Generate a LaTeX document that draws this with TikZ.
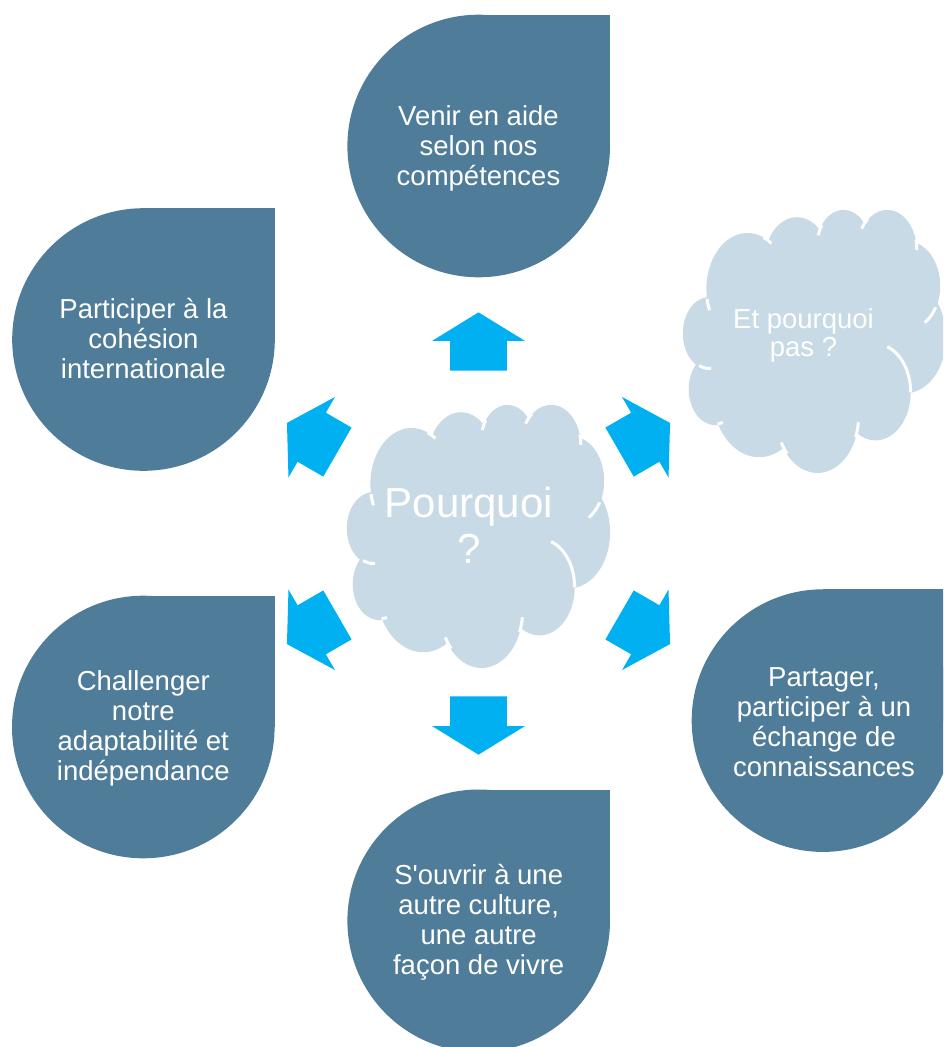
\documentclass[tikz,border=0pt]{standalone}
\usepackage{fontspec}
\setmainfont{Liberation Sans}
\definecolor{tearc}{RGB}{79,125,153}
\definecolor{arrowc}{RGB}{0,176,240}
\definecolor{cloudc}{RGB}{200,218,230}
% exact arcTo (wR, hR, start angle, sweep; units of 1/1000)
\newcommand\oa[4]{arc[x radius={#1/1000}, y radius={#2/1000}, start angle={atan2(#1*sin(#3),#2*cos(#3))}, delta angle={mod(atan2(#1*sin(#3+#4),#2*cos(#3+#4))-atan2(#1*sin(#3),#2*cos(#3))+720,360)}]}
% shifted variant used for the inner white strokes
\newcommand\ob[4]{++({#1*(cos(#3)-cos(atan2(#1*sin(#3),#2*cos(#3))))/1000},{#2*(sin(#3)-sin(atan2(#1*sin(#3),#2*cos(#3))))/1000}) arc[x radius={#1/1000}, y radius={#2/1000}, start angle={#3}, delta angle={#4}]}
\newcommand\cloudouter{(3.900,14.370)
 \oa{6753}{9190}{-190.48748}{123.78053}
 \oa{5333}{7267}{-144.10238}{89.94523}
 \oa{4365}{5945}{-145.80792}{99.72302}
 \oa{4857}{6595}{-130.98607}{117.24173}
 \oa{5333}{7273}{-78.70888}{109.02692}
 \oa{6775}{9220}{-46.26725}{130.269}
 \oa{5785}{7867}{0.62502}{114.03333}
 \oa{6752}{9215}{22.4516}{115.17255}
 \oa{7720}{10543}{66.24263}{75.71102}
 \oa{4360}{5918}{-274.94208}{146.73557}
 \oa{4345}{5945}{-246.8285}{152.51885} -- cycle}
\newcommand\cloudinner{(4.693,26.177) \ob{4345}{5945}{86.742}{26.4295}
 (6.928,34.899) \ob{4360}{5918}{73.61047}{11.44747}
 (16.478,39.090) \ob{6752}{9215}{137.62415}{14.0811}
 (28.827,34.751) \ob{6752}{9215}{6.45327}{15.99835}
 (34.129,22.954) \ob{5785}{7867}{-70.29235}{70.91737}
 (41.798,15.354) \ob{5333}{7273}{30.31803}{27.7515}
 (38.324,5.426) \ob{4857}{6595}{-13.74433}{14.8589}
 (29.078,3.952) \ob{4857}{6595}{-149.18145}{18.19537}
 (22.141,4.720) \ob{4365}{5945}{-163.49427}{17.68635}
 (14.000,5.192) \ob{6753}{9190}{-66.70695}{12.31935}
 (4.127,15.789) \ob{6753}{9190}{157.65435}{11.85817}}
\newcommand\cloudshape[2]{%
 \begin{scope}[shift={(#1,#2)}, x=6.08796pt, y=-6.08796pt]
  \fill[cloudc] \cloudouter;
  \draw[white, line width=3pt] \cloudinner;
 \end{scope}}
\newcommand\teardrop[2]{%
 \fill[tearc] (#1,#2) circle[radius=131.3];
 \fill[tearc] (#1,#2) rectangle ++(131.3,-131.3);}
\newcommand\blockarrow[3]{%
 \fill[arrowc, shift={(#1,#2)}, rotate=#3] (29.15,0) -- (0.55,46.5) -- (0.55,28.3) -- (-29.15,28.3) -- (-29.15,-28.3) -- (0.55,-28.3) -- (0.55,-46.5) -- cycle;}
\begin{document}
\begin{tikzpicture}[x=1pt, y=-1pt,
  txt/.style={text=white, align=center, inner sep=0pt, anchor=north, font=\fontsize{27.5}{30}\selectfont},
  bigtxt/.style={text=white, align=center, inner sep=0pt, anchor=north, font=\fontsize{42}{46}\selectfont},
  cloudtxt/.style={text=white, align=center, inner sep=0pt, anchor=north, font=\fontsize{27.5}{28.5}\selectfont}]
\useasboundingbox (0,0) rectangle (943,1047);
\clip (0,0) rectangle (943,1047);
% teardrops
\teardrop{478.7}{146}
\teardrop{143.5}{339.5}
\teardrop{143.3}{727}
\teardrop{478.7}{920.8}
\teardrop{823}{720.6}
% clouds
\cloudshape{347}{404}
\cloudshape{683}{209}
% arrows
\blockarrow{478.5}{341.5}{90}
\blockarrow{478.5}{725.5}{270}
\blockarrow{312.2}{437.5}{150}
\blockarrow{312.2}{629.5}{210}
\blockarrow{644.8}{437.5}{30}
\blockarrow{644.8}{629.5}{-30}
% texts
\node[txt] (t1) at (478.5,104) {\strut Venir en aide\\\strut selon nos\\\strut compétences};
\node[txt] (t2) at (143.5,297.5) {\strut Participer à la\\\strut cohésion\\\strut internationale};
\node[txt] (t3) at (143.3,669) {\strut Challenger\\\strut notre\\\strut adaptabilité et\\\strut indépendance};
\node[txt] (t4) at (478.7,863.5) {\strut S\textquotesingle ouvrir à une\\\strut autre culture,\\\strut une autre\\\strut façon de vivre};
\node[txt] (t5) at (824,665) {\strut Partager,\\\strut participer à un\\\strut échange de\\\strut connaissances};
\node[bigtxt] (c0) at (469,484.8) {\strut Pourquoi\\\strut ?};
\node[cloudtxt] (c1) at (803.5,308) {\strut Et pourquoi\\\strut pas ?};
\end{tikzpicture}
\end{document}
